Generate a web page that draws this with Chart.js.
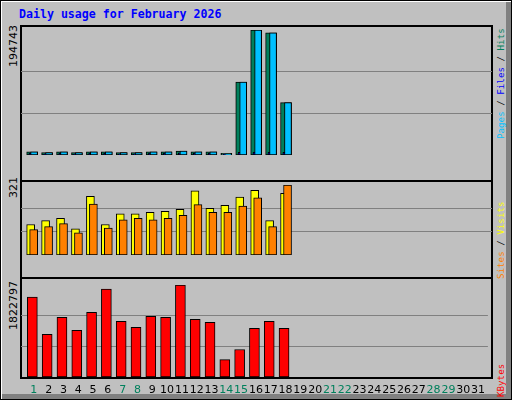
<!DOCTYPE html>
<html>
<head>
<meta charset="utf-8">
<script src="https://cdn.jsdelivr.net/npm/chart.js@4"></script>
<style>
  body { margin: 0; }
  #wrap { position: relative; width: 510px; height: 398px; background: #c0c0c0; border: 1px solid #000;
          box-shadow: inset 1px 1px 0 #fff, inset -5px -5px 0 #808080; overflow: hidden; }
  canvas { position: absolute; left: 20px; }
  .frame { position: absolute; left: 19px; width: 469px; border: 2px solid #000; box-sizing: content-box; }
  .t { position: absolute; font-family: "DejaVu Sans Mono", monospace; white-space: nowrap; }
  .rot { transform: rotate(-90deg); transform-origin: left top; }
  .yl { font-family: "DejaVu Sans", sans-serif; font-size: 11px; color: #000; }
</style>
</head>
<body>
<div id="wrap">
  <div class="t" style="left:18px;top:6px;font-size:11.6px;font-weight:bold;color:#0000ff">Daily usage for February 2026</div>
  <div class="frame" style="top:24px;height:153px"></div>
  <div class="frame" style="top:178px;height:98px;border-top:none"></div>
  <div class="frame" style="top:278px;height:98px;border-top:none"></div>
  <canvas id="c1" width="471" height="147" style="top:29px"></canvas>
  <canvas id="c2" width="471" height="92" style="top:184px"></canvas>
  <canvas id="c3" width="471" height="114" style="top:284px"></canvas>
  <div class="t yl rot" style="left:6px;top:66px">194743</div>
  <div class="t yl rot" style="left:6px;top:197px">321</div>
  <div class="t yl rot" style="left:6px;top:329px">1822797</div>
  <div class="t rot" style="left:494px;top:138px;font-size:9.2px"><span style="color:#00c0ff">Pages</span> / <span style="color:#0000ff">Files</span> / <span style="color:#00805c">Hits</span></div>
  <div class="t rot" style="left:494px;top:278px;font-size:9.2px"><span style="color:#ff8000">Sites</span> / <span style="color:#ffff00">Visits</span></div>
  <div class="t rot" style="left:494px;top:396px;font-size:9.2px"><span style="color:#ff0000">KBytes</span></div>
</div>
<script>
const days = Array.from({length: 31}, (_, i) => i + 1);
const weekend = [1, 7, 8, 14, 15, 21, 22, 28, 29];

const hits   = [4900, 3600, 4900, 3600, 4900, 4900, 3600, 3600, 4900, 4900, 6200, 4900, 4900, 2600, 113500, 194743, 190400, 81700];
const pages  = [4900, 3600, 4900, 3600, 4900, 4900, 3600, 3600, 4900, 4900, 6200, 4900, 4900, 1700, 113500, 194743, 190400, 81700];
const files  = [2600, 2000, 2600, 2000, 2600, 2600, 2000, 2000, 2600, 2600, 3500, 2600, 2600, 1200, 4000, 4400, 4400, 4000];
const visits = [140, 158, 168, 120, 269, 140, 189, 189, 196, 200, 210, 294, 214, 228, 266, 297, 158, 283];
const sites  = [116, 130, 144, 102, 234, 123, 161, 168, 161, 168, 182, 231, 196, 196, 224, 262, 130, 321];
const kbytes = [1582000, 844000, 1183000, 924000, 1283000, 1741000, 1103000, 984000, 1203000, 1183000, 1822797,
                1143000, 1083000, 345000, 545000, 964000, 1103000, 964000];

const maxHits = 194743, maxSites = 321, maxKb = 1822797;

function pts(arr, shift) {
    return arr.map((v, i) => ({x: days[i] + shift, y: v}));
}

function bar(data, color, width, order) {
    return {data: data, backgroundColor: color, borderColor: '#000', borderWidth: 1,
            barThickness: width, order: order, borderSkipped: false, grouped: false};
}

function makeChart(id, datasets, max, showX) {
    new Chart(document.getElementById(id), {
        type: 'bar',
        data: {datasets: datasets},
        options: {
            responsive: false, animation: false, devicePixelRatio: 1,
            layout: {padding: 0},
            plugins: {legend: {display: false}, tooltip: {enabled: false}},
            scales: {
                x: {
                    type: 'linear', min: 0.133, max: 31.67, offset: false,
                    display: showX,
                    grid: {display: false, drawTicks: false}, border: {display: false},
                    afterBuildTicks: s => { s.ticks = days.map(d => ({value: d})); },
                    afterFit: s => { s.height = 22; },
                    ticks: {
                        padding: 7, autoSkip: false, maxRotation: 0,
                        font: {family: 'DejaVu Sans', size: 11},
                        color: c => weekend.includes(c.tick.value) ? '#00805c' : '#000'
                    }
                },
                y: {
                    display: true, min: 0, max: max,
                    afterBuildTicks: s => { s.ticks = [{value: max / 3}, {value: max * 2 / 3}]; },
                    afterFit: s => { s.width = 0; },
                    ticks: {display: false},
                    border: {display: false},
                    grid: {color: '#808080', lineWidth: 1, drawTicks: false}
                }
            }
        }
    });
}

makeChart('c1', [
    bar(pts(pages, 0.01), '#00c0ff', 7, 0),
    bar(pts(files, -0.2), '#0000ff', 4, 1),
    bar(pts(hits, -0.12), '#00805c', 11, 2)
], maxHits, false);

makeChart('c2', [
    bar(pts(sites, -0.02), '#ff8000', 8, 0),
    bar(pts(visits, -0.22), '#ffff00', 8, 1)
], maxSites, false);

makeChart('c3', [
    bar(pts(kbytes, -0.1), '#ff0000', 10, 0)
], maxKb, true);
</script>
</body>
</html>
